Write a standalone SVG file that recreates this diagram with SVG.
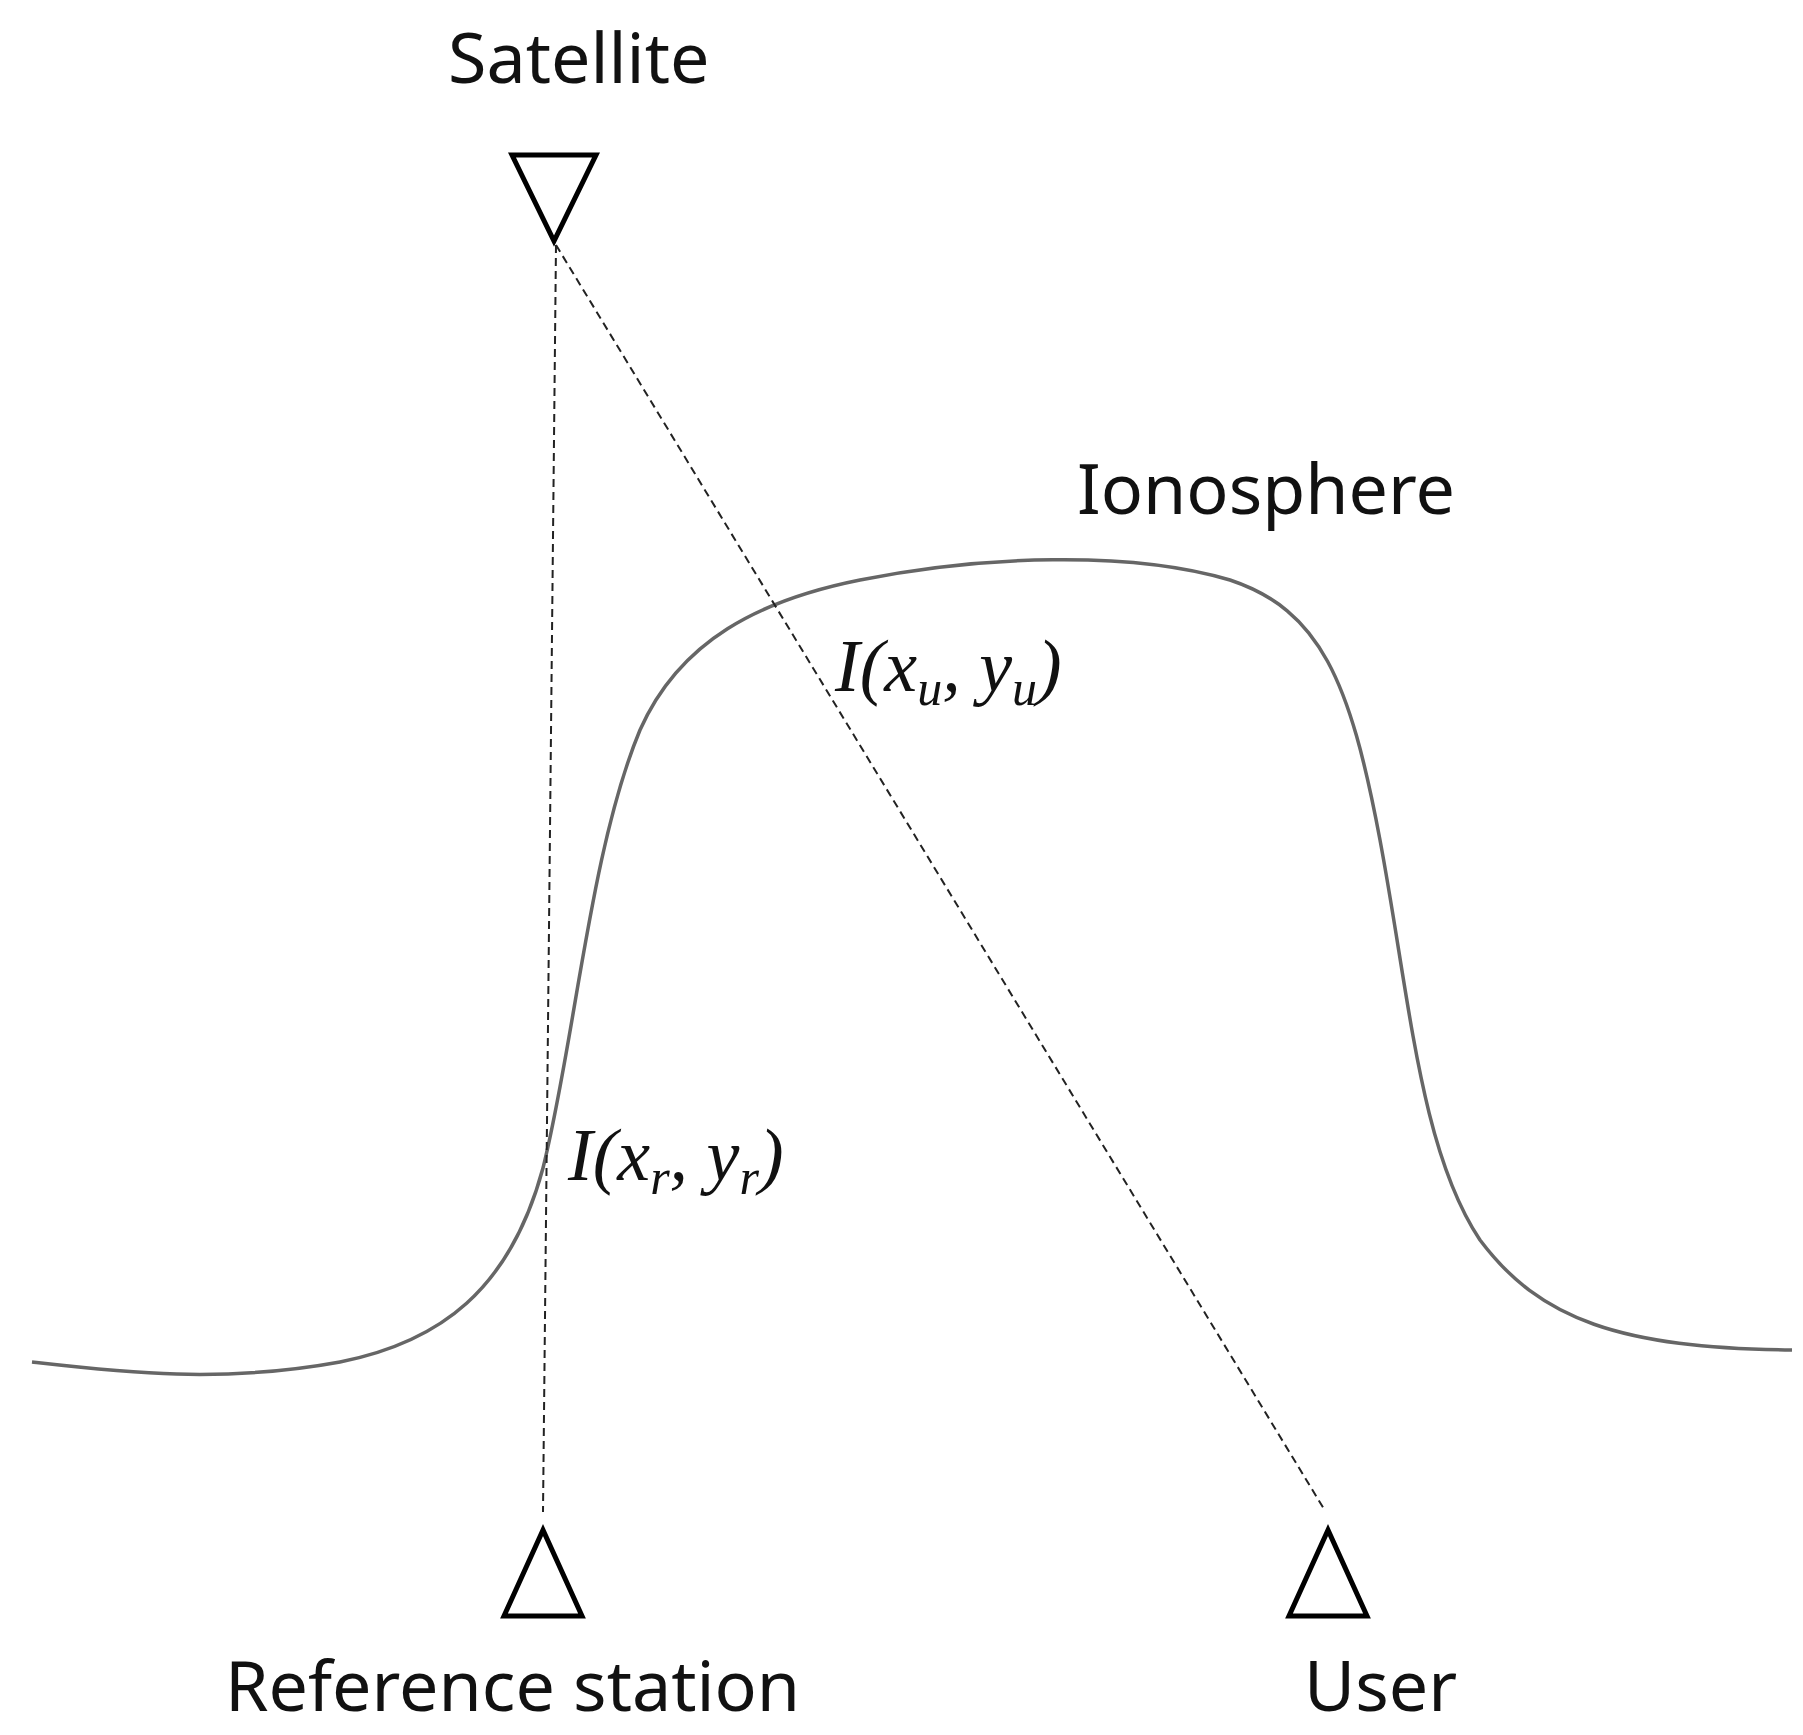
<svg xmlns="http://www.w3.org/2000/svg" width="1803" height="1735" viewBox="0 0 1803 1735">
<style>
.lbl{font-family:"Noto Sans","Liberation Sans",sans-serif;font-size:70px;fill:#111}
.math{font-family:"Liberation Serif",serif;font-style:italic;font-size:74px;fill:#111}
.tri{fill:none;stroke:#000;stroke-width:5}
.dash{stroke:#222;stroke-width:2;stroke-dasharray:8,5;fill:none}
</style>
<rect width="1803" height="1735" fill="#fff"/>
<g id="ionosphere">
<path d="M32,1362 C120,1372 220,1384 340,1362 C440,1342 510,1290 543,1168 C575,1040 590,850 640,730 C680,640 760,600 860,580 C980,556 1130,550 1230,580 C1320,610 1350,680 1380,840 C1410,1000 1420,1150 1480,1240 C1540,1320 1620,1348 1792,1350" fill="none" stroke="#666" stroke-width="3.5"/>
<text class="lbl" x="1077" y="514">Ionosphere</text>
</g>
<g id="connectors">
<line class="dash" x1="556" y1="245" x2="543" y2="1512"/>
<line class="dash" x1="556" y1="245" x2="1324" y2="1509"/>
</g>
<g id="satellite">
<polygon class="tri" points="512,155 596,155 554,241"/>
<text class="lbl" x="448" y="83">Satellite</text>
</g>
<g id="reference">
<polygon class="tri" points="543,1530 504,1616 582,1616"/>
<text class="lbl" x="225" y="1711">Reference station</text>
</g>
<g id="user">
<polygon class="tri" points="1328,1530 1289,1616 1367,1616"/>
<text class="lbl" x="1304" y="1711">User</text>
</g>
<g id="labels">
<text class="math" x="568" y="1180">I(x<tspan font-size="50" dy="14">r</tspan><tspan dy="-14">, y</tspan><tspan font-size="50" dy="14">r</tspan><tspan dy="-14">)</tspan></text>
<text class="math" x="835" y="691">I(x<tspan font-size="50" dy="14">u</tspan><tspan dy="-14">, y</tspan><tspan font-size="50" dy="14">u</tspan><tspan dy="-14">)</tspan></text>
</g>
</svg>
